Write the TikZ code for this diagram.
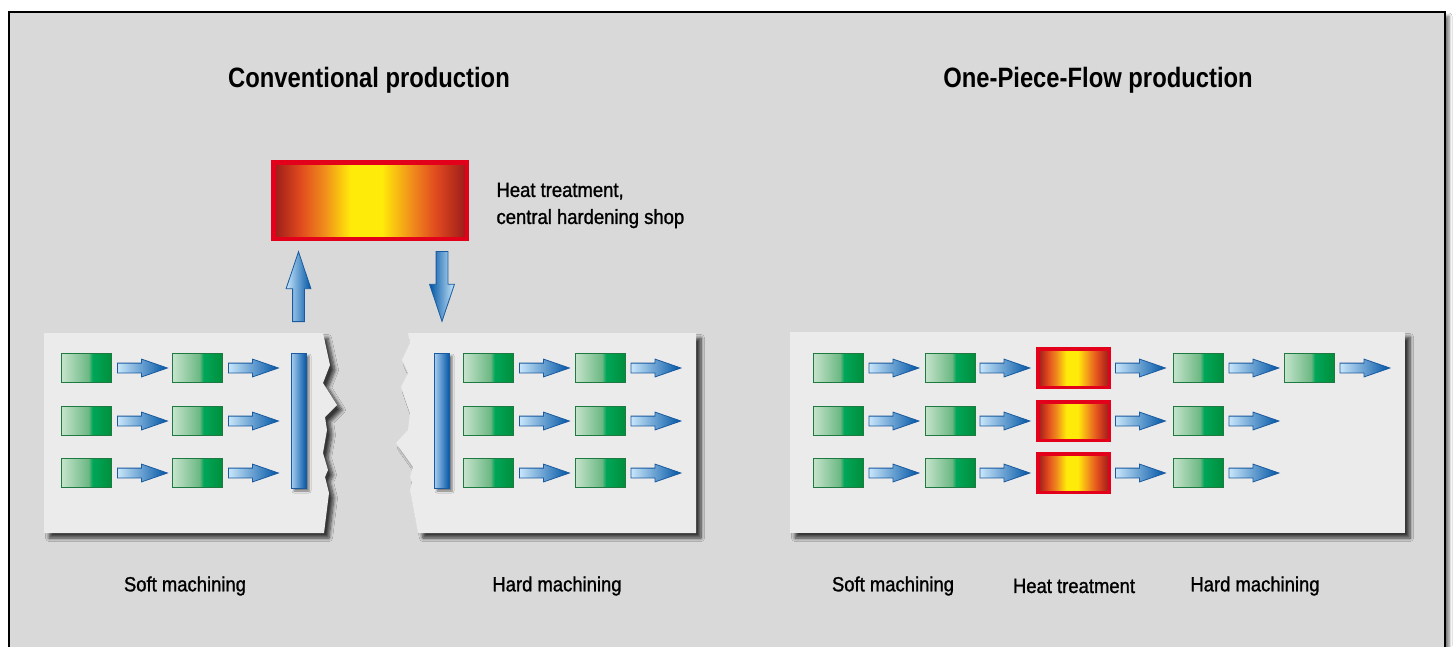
\documentclass[tikz,border=0pt]{standalone}
\usepackage{fontspec}
\setmainfont{Liberation Sans}
\newfontfamily\titlefont{Liberation Sans}[FakeStretch=0.85]
\newfontfamily\labfont{Liberation Sans}[FakeStretch=0.9,FakeBold=1.2]
\usetikzlibrary{shadows.blur,shapes.arrows}
\definecolor{bg}{HTML}{D9D9D9}
\definecolor{panel}{HTML}{EBEBEB}
\definecolor{dred}{HTML}{9A1A1A}
\definecolor{ored}{HTML}{E04A1E}
\definecolor{orng}{HTML}{F08A1C}
\definecolor{yel}{HTML}{FFEB0A}
\definecolor{hred}{HTML}{E2001A}
\definecolor{lgreen}{HTML}{C6E4CC}
\definecolor{m1green}{HTML}{6CB884}
\definecolor{mgreen}{HTML}{00A659}
\definecolor{dgreen}{HTML}{008F3C}
\definecolor{gborder}{HTML}{1E7A40}
\definecolor{lblue}{HTML}{C8E6FA}
\definecolor{bblue}{HTML}{A6CBEE}
\definecolor{dblue}{HTML}{0055A5}
\definecolor{bborder}{HTML}{1A5AA0}
\pgfdeclarehorizontalshading{heat}{100bp}{color(0bp)=(dred); color(25bp)=(dred); color(32bp)=(ored); color(38bp)=(orng); color(45bp)=(yel); color(53bp)=(yel); color(61bp)=(orng); color(67bp)=(ored); color(75bp)=(dred); color(100bp)=(dred)}
\pgfdeclarehorizontalshading{greenbox}{100bp}{color(0bp)=(lgreen); color(25bp)=(lgreen); color(52bp)=(m1green); color(56bp)=(mgreen); color(75bp)=(dgreen); color(100bp)=(dgreen)}
\tikzset{
  x=1pt, y=-1pt,
  gbox/.style={draw=gborder, line width=1pt, shade, shading=greenbox, minimum width=50pt, minimum height=29pt, inner sep=0pt},
  hbox/.style={draw=hred, line width=3.5pt, shade, shading=heat, minimum width=71.5pt, minimum height=38.5pt, inner sep=0pt},
  barrow/.style={single arrow, draw=bborder, line width=0.8pt, left color=lblue, right color=dblue, inner xsep=0pt, inner ysep=4.5pt, minimum height=50pt, single arrow head extend=4pt, single arrow tip angle=38, anchor=tail},
  varrow/.style={single arrow, draw=bborder, line width=0.8pt, inner xsep=0pt, inner ysep=5.5pt, minimum height=70pt, single arrow head extend=6.5pt, single arrow tip angle=37, anchor=tail},
  bar/.style={draw=bborder, line width=1pt, left color=bblue, right color=dblue, minimum width=15pt, minimum height=135pt, inner sep=0pt, blur shadow={shadow xshift=2.5pt, shadow yshift=-2.5pt, shadow blur radius=2pt, shadow opacity=50}},
  paper/.style={fill=panel, blur shadow={shadow xshift=5pt, shadow yshift=-5pt, shadow blur radius=3.5pt, shadow blur steps=8, shadow opacity=75}},
  title/.style={font=\titlefont\bfseries\fontsize{28}{32}\selectfont, text=black},
  lab/.style={font=\labfont\fontsize{20.5}{27}\selectfont, text=black}
}
\begin{document}
\begin{tikzpicture}
\useasboundingbox (0,0) rectangle (1453,646);
\fill[white] (0,0) rectangle (1453,646);
% outer frame
\draw[fill=bg, line width=1.2pt, blur shadow={shadow xshift=4pt, shadow yshift=-4pt, shadow blur radius=3pt, shadow opacity=55}] (9,12) rectangle (1445,700);

% titles
\node[title] (t1) at (369,80) {Conventional production};
\node[title] (t2) at (1098,80) {One-Piece-Flow production};

% heat treatment central
\node[draw=hred, line width=4.5pt, shade, shading=heat, minimum width=193.5pt, minimum height=76.5pt, inner sep=0pt] (ht) at (370,200.5) {};
\node[lab, anchor=west, align=left] (htl) at (493,205.5) {Heat treatment,\\central hardening shop};
\node[varrow, rotate=90, left color=lblue, right color=dblue] (up) at (298.5,322) {};
\node[varrow, rotate=-90, left color=dblue, right color=lblue] (down) at (442,251) {};

% left torn panel
\path[paper] (44,333) -- (323,333) -- (330,365) -- (323,383) -- (337,405) -- (325,417) -- (327,430) -- (323,453) -- (328,470) -- (325,477) -- (329,493) -- (324,533) -- (44,533) -- cycle;
% right torn panel
\path[paper] (408,333) -- (696,333) -- (696,533) -- (418,533) -- (410,490) -- (412,483) -- (410,477) -- (413,467) -- (396,443) -- (408,430) -- (410,413) -- (401,387) -- (408,373) -- (402,360) -- (410,343) -- cycle;
% one piece flow panel
\path[paper] (790,332) rectangle (1405,533);

% left panel content
\foreach \r/\y in {1/368,2/421,3/473}{
  \node[gbox] (a\r1) at (86.5,\y) {};
  \node[barrow] (ra\r1) at ([xshift=5pt]a\r1.east) {};
  \node[gbox] (a\r2) at (197.5,\y) {};
  \node[barrow] (ra\r2) at ([xshift=5pt]a\r2.east) {};
}
\node[bar] (bl) at (299,421) {};
% hard panel content
\node[bar] (br) at (442,421) {};
\foreach \r/\y in {1/368,2/421,3/473}{
  \node[gbox] (b\r1) at (488.5,\y) {};
  \node[barrow] (rb\r1) at ([xshift=5pt]b\r1.east) {};
  \node[gbox] (b\r2) at (600,\y) {};
  \node[barrow] (rb\r2) at ([xshift=5pt]b\r2.east) {};
}
% one piece flow content
\foreach \r/\y in {1/368,2/421,3/473}{
  \node[gbox] (c\r1) at (838,\y) {};
  \node[barrow] (rc\r1) at ([xshift=5pt]c\r1.east) {};
  \node[gbox] (c\r2) at (950,\y) {};
  \node[barrow] (rc\r2) at ([xshift=4pt]c\r2.east) {};
  \node[hbox] (h\r) at (1073.5,\y) {};
  \node[barrow] (rh\r) at ([xshift=4pt]h\r.east) {};
  \node[gbox] (c\r3) at (1198,\y) {};
  \node[barrow] (rc\r3) at ([xshift=5pt]c\r3.east) {};
}
\node[gbox] (c14) at (1309,368) {};
\node[barrow] (rc14) at ([xshift=5pt]c14.east) {};

% bottom labels
\node[lab] (l1) at (185,586) {Soft machining};
\node[lab] (l2) at (557,586) {Hard machining};
\node[lab] (l3) at (893,586) {Soft machining};
\node[lab] (l4) at (1074,586) {Heat treatment};
\node[lab] (l5) at (1255,586) {Hard machining};
\end{tikzpicture}
\end{document}
